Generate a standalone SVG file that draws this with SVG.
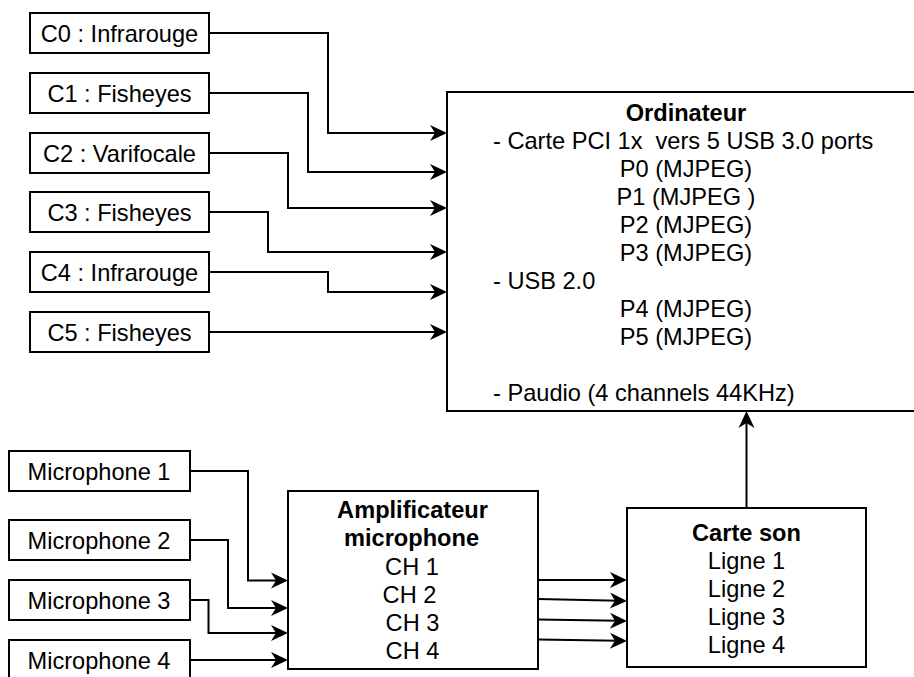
<svg xmlns="http://www.w3.org/2000/svg" width="914" height="677" viewBox="0 0 914 677">
<style>
.box{fill:#fff;stroke:#000;stroke-width:2}
.t{font-family:"Liberation Sans",Arial,sans-serif;font-size:23.6px;fill:#000;text-anchor:middle}
.l{text-anchor:start}
.b{font-weight:bold}
.c{fill:none;stroke:#000;stroke-width:2}
</style>
<defs>
<marker id="ah" viewBox="-18 -9 19 18" markerWidth="19" markerHeight="18" refX="-8" refY="0" orient="auto" markerUnits="userSpaceOnUse">
<path d="M0,0 L-17,-8 L-12,0 L-17,8 Z" fill="#000"/>
</marker>
</defs>
<rect width="914" height="677" fill="#fff"/>
<g id="connectors">
<path class="c" d="M209,33 H328 V133 H439" marker-end="url(#ah)"/>
<path class="c" d="M209,93 H308 V172 H439" marker-end="url(#ah)"/>
<path class="c" d="M209,153 H288 V208 H439" marker-end="url(#ah)"/>
<path class="c" d="M209,212 H268 V252 H439" marker-end="url(#ah)"/>
<path class="c" d="M209,272 H328 V292 H439" marker-end="url(#ah)"/>
<path class="c" d="M209,332 H439" marker-end="url(#ah)"/>
<path class="c" d="M190,471 H248 V580.5 H280" marker-end="url(#ah)"/>
<path class="c" d="M190,540 H228 V608 H280" marker-end="url(#ah)"/>
<path class="c" d="M190,600 H208.5 V633 H280" marker-end="url(#ah)"/>
<path class="c" d="M190,660 H280" marker-end="url(#ah)"/>
<path class="c" d="M538,580 L619,580" marker-end="url(#ah)"/>
<path class="c" d="M538,599 L619,600.8" marker-end="url(#ah)"/>
<path class="c" d="M538,619.5 L619,620.8" marker-end="url(#ah)"/>
<path class="c" d="M538,639.5 L619,640.8" marker-end="url(#ah)"/>
<path class="c" d="M746.5,508 V419" marker-end="url(#ah)"/>
</g>
<g id="c0"><rect class="box" x="30" y="13" width="179" height="40"/><text class="t" x="119.5" y="41.5">C0 : Infrarouge</text></g>
<g id="c1"><rect class="box" x="30" y="73" width="179" height="40"/><text class="t" x="119.5" y="101.5">C1 : Fisheyes</text></g>
<g id="c2"><rect class="box" x="30" y="133" width="179" height="40"/><text class="t" x="119.5" y="161.5">C2 : Varifocale</text></g>
<g id="c3"><rect class="box" x="30" y="192" width="179" height="40"/><text class="t" x="119.5" y="220.5">C3 : Fisheyes</text></g>
<g id="c4"><rect class="box" x="30" y="252" width="179" height="40"/><text class="t" x="119.5" y="280.5">C4 : Infrarouge</text></g>
<g id="c5"><rect class="box" x="30" y="312" width="179" height="40"/><text class="t" x="119.5" y="340.5">C5 : Fisheyes</text></g>
<g id="ordinateur"><rect class="box" x="447" y="92" width="478" height="319"/>
<text class="t b" x="686" y="120.5">Ordinateur</text>
<text class="t l" x="493" y="149" style="white-space:pre" xml:space="preserve">- Carte PCI 1x  vers 5 USB 3.0 ports</text>
<text class="t" x="686" y="177">P0 (MJPEG)</text>
<text class="t" x="686" y="205">P1 (MJPEG )</text>
<text class="t" x="686" y="233">P2 (MJPEG)</text>
<text class="t" x="686" y="261">P3 (MJPEG)</text>
<text class="t l" x="493" y="289">- USB 2.0</text>
<text class="t" x="686" y="317">P4 (MJPEG)</text>
<text class="t" x="686" y="345">P5 (MJPEG)</text>
<text class="t l" x="493" y="400.5">- Paudio (4 channels 44KHz)</text>
</g>
<g id="mic1"><rect class="box" x="9" y="451" width="181" height="40"/><text class="t" x="99" y="479.5">Microphone 1</text></g>
<g id="mic2"><rect class="box" x="9" y="520" width="181" height="40"/><text class="t" x="99" y="548.5">Microphone 2</text></g>
<g id="mic3"><rect class="box" x="9" y="580" width="181" height="40"/><text class="t" x="99" y="608.5">Microphone 3</text></g>
<g id="mic4"><rect class="box" x="9" y="640" width="181" height="40"/><text class="t" x="99" y="668.5">Microphone 4</text></g>
<g id="amplificateur"><rect class="box" x="288" y="491" width="250" height="178"/>
<text class="t b" x="412.5" y="517.5">Amplificateur</text>
<text class="t b" x="411.5" y="545.5">microphone</text>
<text class="t" x="412" y="575">CH 1</text>
<text class="t" x="409.5" y="602.5">CH 2</text>
<text class="t" x="412.5" y="630.5">CH 3</text>
<text class="t" x="412.5" y="658.5">CH 4</text>
</g>
<g id="carteson"><rect class="box" x="627" y="508" width="239" height="159"/>
<text class="t b" x="746.5" y="541">Carte son</text>
<text class="t" x="746.5" y="569">Ligne 1</text>
<text class="t" x="746.5" y="597">Ligne 2</text>
<text class="t" x="746.5" y="625">Ligne 3</text>
<text class="t" x="746.5" y="653">Ligne 4</text>
</g>
</svg>
